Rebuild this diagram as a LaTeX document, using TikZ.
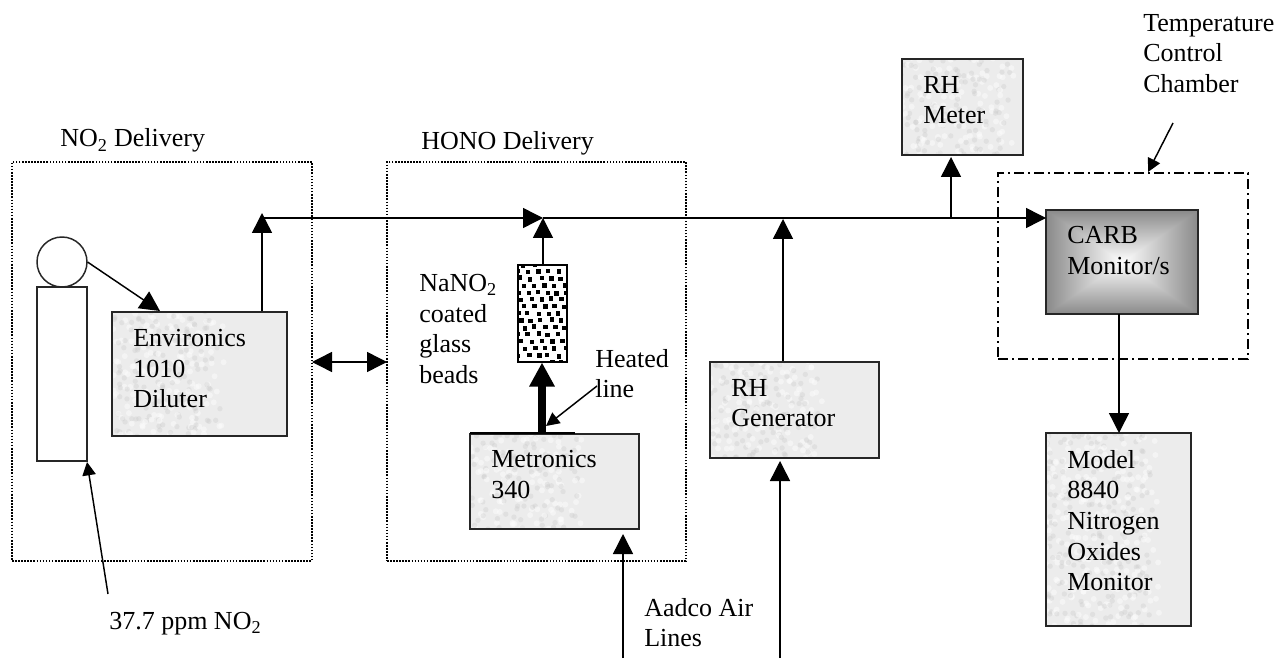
\documentclass[tikz,border=0pt]{standalone}
\usepackage{fontspec}
\setmainfont{Liberation Serif}
\usetikzlibrary{arrows.meta,fit}
\definecolor{gbase}{HTML}{ECECEC}
\definecolor{gdark}{HTML}{C8C8C8}
\definecolor{glight}{HTML}{FCFCFC}
\pgfmathsetseed{42}
\pgfdeclarefunctionalshading{boxgrad}{\pgfpoint{-50bp}{-50bp}}{\pgfpoint{50bp}{50bp}}{}{
  abs exch abs 2 copy lt {exch} if pop 50 div 0.92 mul 1 exch sub dup dup
}
\newcommand\granitefill{%
  \fill[gbase] (path picture bounding box.south west) rectangle (path picture bounding box.north east);
  \begin{scope}[shift={(path picture bounding box.center)}]
  \foreach \gx in {-100,-90,...,100}{%
    \foreach \gy in {-110,-100,...,110}{%
      \pgfmathsetmacro\jxa{rand*8}\pgfmathsetmacro\jya{rnd*16-8}%
      \pgfmathsetmacro\jxb{rand*8}\pgfmathsetmacro\jyb{rnd*16-8}%
      \fill[gdark,opacity=.32] (\gx+\jxa,\gy+\jya) circle[radius=2pt];
      \fill[glight,opacity=.55] (\gx+5+\jxb,\gy+5+\jyb) circle[radius=2.2pt];
    }%
  }%
  \end{scope}
}
\newcommand\beadsfill{%
  \fill[white] (path picture bounding box.south west) rectangle (path picture bounding box.north east);
  \begin{scope}[shift={(path picture bounding box.center)}]
  \foreach \r in {-7,...,7}{%
    \foreach \c in {-6,...,6}{%
      \fill[black] ({\c*10+\r*3.4+rand*1.2},{\r*7+rand*1}) ++(-2.2,-2.2) rectangle ++(4.4,4.4);
    }%
  }%
  \end{scope}
}
\tikzset{
  x=0.75pt, y=-0.75pt,
  every node/.style={font=\fontsize{19.5}{23}\selectfont},
  boxbase/.style={draw=black!85, line width=1.1pt, inner sep=0pt, rectangle},
  graybox/.style={boxbase, path picture={\granitefill}},
  plainbox/.style={boxbase, fill=white},
  beadbox/.style={boxbase, draw=black, path picture={\beadsfill}},
  carbbox/.style={boxbase, shading=boxgrad},
  dotbox/.style={draw=black, line width=1.2pt, dash pattern=on 1.2pt off 1.1pt, inner sep=0pt, rectangle},
  chambox/.style={draw=black, line width=1.1pt, dash pattern=on 7.5pt off 3pt on 1.5pt off 3pt, inner sep=0pt, rectangle},
  lbl/.style={anchor=north west, inner sep=0pt, align=left},
  lbase/.style={anchor=base west, inner sep=0pt},
  conn/.style={draw=black, line width=1.1pt},
  arr/.style={conn, -{Triangle[length=15pt,width=15pt]}},
  arrboth/.style={conn, {Triangle[length=15pt,width=15pt]}-{Triangle[length=15pt,width=15pt]}},
  arrsmall/.style={conn, -{Triangle[length=10pt,width=10pt]}},
  arrthick/.style={draw=black, line width=6pt, -{Triangle[length=18pt,width=18pt]}},
}
\begin{document}
\begin{tikzpicture}
\useasboundingbox (0,0) rectangle (1280,659);
\fill[white] (0,0) rectangle (1280,659);

% dotted groups
\node[dotbox, fit={(12,162) (312,561)}] (no2group) {};
\node[dotbox, fit={(387,162) (686,561)}] (honogroup) {};
\node[chambox, fit={(998,173) (1248,359)}] (chamber) {};

% boxes
\node[plainbox, circle, minimum size=37.5pt] (ball) at (62,262) {};
\node[plainbox, fit={(37,287) (87,461)}] (cyl) {};
\node[graybox, fit={(112,312) (287,436)}] (env) {};
\node[graybox, fit={(470,434) (639,529)}] (metro) {};
\node[beadbox, fit={(518,265) (567,362)}] (beads) {};
\node[graybox, fit={(710,362) (879,458)}] (rhgen) {};
\node[graybox, fit={(902,59) (1023,155)}] (rhmeter) {};
\node[carbbox, fit={(1046,210) (1198,314)}] (carb) {};
\node[graybox, fit={(1046,433) (1191,626)}] (model) {};

% junctions and free ends
\coordinate (j0) at (262,213);
\coordinate (m0) at (262,218);
\coordinate (j1) at (543,218);
\coordinate (j2) at (783,219);
\coordinate (j3) at (951,218);
\coordinate (j4) at (1046,218);
\coordinate (b1) at (623,658);
\coordinate (b2) at (780,658);
\coordinate (t1) at (623,534);
\coordinate (t2) at (780,461);
\coordinate (t3) at (951,157);
\coordinate (c1) at (1119,314);
\coordinate (c2) at (1119,433);
\coordinate (ballout) at (87.5,262);
\coordinate (envin) at (160,311);
\coordinate (dl) at (312,362);
\coordinate (dr) at (387,362);
\coordinate (ppm) at (108,594);
\coordinate (cylc) at (87,462);
\coordinate (h1) at (597,386);
\coordinate (h2) at (546,426);
\coordinate (tc1) at (1173,123);
\coordinate (tc2) at (1148,172);
\coordinate (th0) at (542,433);
\coordinate (th1) at (542,362.5);
\coordinate (st0) at (470,433);
\coordinate (st1) at (575,433);

% connectors
\draw[arr] (m0) -- (j1);
\draw[arr] (j1) -- (j4);
\draw[arr] (env.north -| j0) -- (j0);
\draw[arr] (beads.north -| j1) -- (j1);
\draw[arr] (rhgen.north -| j2) -- (j2);
\draw[arr] (j3) -- (t3);
\draw[arr] (b1) -- (t1);
\draw[arr] (b2) -- (t2);
\draw[arr] (c1) -- (c2);
\draw[arr] (ballout) -- (envin);
\draw[arrboth] (dl) -- (dr);
\draw[conn] (st0) -- (st1);
\draw[arrthick] (th0) -- (th1);
\draw[arrsmall] (ppm) -- (cylc);

% labels
\node[lbase] (lno2) at (60,147) {NO\textsubscript{2} Delivery};
\node[lbase] (lhono) at (421,150) {HONO Delivery};
\node[lbl] (lenv) at (133,329) {Environics\\1010\\Diluter};
\node[lbl] (lmetro) at (491,450) {Metronics\\340};
\node[lbl] (lnano) at (419,274) {NaNO\textsubscript{2}\\coated\\glass\\beads};
\node[lbl] (lheat) at (595,349) {Heated\\line};
\node[lbl] (lrhgen) at (731,379) {RH\\Generator};
\node[lbl] (lrhm) at (923,76) {RH\\Meter};
\node[lbl] (ltemp) at (1143,14) {Temperature\\Control\\Chamber};
\node[lbl] (lcarb) at (1067,226) {CARB\\Monitor/s};
\node[lbl] (lmodel) at (1067,450) {Model\\8840\\Nitrogen\\Oxides\\Monitor};
\node[lbl] (laad) at (644,598) {Aadco Air\\Lines};
\node[lbase] (lppm) at (109,629) {37.7 ppm NO\textsubscript{2}};

\draw[arrsmall] (h1) -- (h2);
\draw[arrsmall] (tc1) -- (tc2);
\end{tikzpicture}
\end{document}
